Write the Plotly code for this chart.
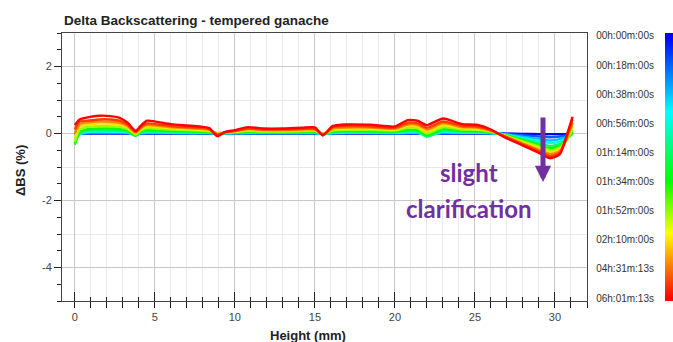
import plotly.graph_objects as go
from plotly.colors import sample_colorscale

# ---------------- data ----------------
HEIGHT_MM = [0, 0.3, 0.8, 1.5, 2.2, 2.8, 3.3, 3.8, 4.1, 4.5,
             5.2, 6, 7, 7.8, 8.4, 8.9, 9.4, 10, 10.8, 11.8,
             13, 14.2, 15, 15.5, 16.1, 17, 18.5, 20, 20.8, 21.4,
             22, 23, 24.2, 25.1, 26, 26.8, 28, 29, 29.7, 30.3,
             30.7, 31.1]

SCAN_000 = [0.0, 0.0, 0.0, 0.0, 0.0, 0.0, 0.0, -0.01, 0.0, 0.0,
            0.0, 0.0, 0.0, 0.0, 0.0, -0.01, 0.0, 0.0, 0.0, 0.0,
            0.0, 0.0, 0.0, 0.0, 0.0, 0.0, 0.0, 0.0, 0.0, 0.0,
            0.0, 0.0, 0.0, 0.0, 0.0, 0.0, -0.01, -0.02, -0.02, -0.02,
            -0.02, 0.0]
SCAN_011 = [-0.05, 0.0, 0.01, 0.01, 0.01, 0.01, 0.01, -0.02, 0.0, 0.01,
            0.01, 0.01, 0.0, 0.0, 0.0, 0.0, 0.0, 0.0, 0.0, 0.0,
            0.0, 0.0, 0.0, 0.0, 0.0, 0.01, 0.01, 0.0, 0.01, 0.01,
            -0.02, 0.01, 0.01, 0.01, 0.0, -0.01, -0.05, -0.09, -0.11, -0.09,
            -0.06, 0.0]
SCAN_022 = [-0.12, -0.02, 0.03, 0.03, 0.03, 0.03, 0.02, -0.04, 0.01, 0.02,
            0.02, 0.02, 0.01, 0.01, 0.01, 0.0, 0.0, 0.01, 0.01, 0.01,
            0.01, 0.01, 0.01, -0.01, 0.01, 0.02, 0.02, 0.01, 0.02, 0.02,
            -0.05, 0.03, 0.02, 0.02, 0.01, -0.02, -0.10, -0.16, -0.21, -0.17,
            -0.10, 0.0]
SCAN_033 = [-0.22, -0.02, 0.05, 0.06, 0.06, 0.05, 0.04, -0.06, 0.02, 0.04,
            0.04, 0.03, 0.03, 0.02, 0.02, -0.01, 0.01, 0.01, 0.02, 0.02,
            0.02, 0.02, 0.02, -0.01, 0.02, 0.03, 0.03, 0.02, 0.04, 0.04,
            -0.08, 0.05, 0.03, 0.03, 0.01, -0.02, -0.14, -0.22, -0.28, -0.24,
            -0.15, 0.0]
SCAN_044 = [-0.30, 0.0, 0.08, 0.10, 0.10, 0.09, 0.06, -0.07, 0.04, 0.07,
            0.06, 0.05, 0.05, 0.04, 0.03, -0.01, 0.01, 0.02, 0.04, 0.03,
            0.03, 0.03, 0.03, -0.02, 0.04, 0.05, 0.05, 0.04, 0.08, 0.07,
            -0.09, 0.09, 0.05, 0.05, 0.02, -0.03, -0.18, -0.29, -0.37, -0.31,
            -0.18, 0.0]
SCAN_056 = [-0.33, 0.05, 0.13, 0.15, 0.15, 0.13, 0.09, -0.06, 0.06, 0.11,
            0.10, 0.08, 0.07, 0.06, 0.04, 0.0, 0.01, 0.03, 0.05, 0.04,
            0.04, 0.05, 0.05, -0.02, 0.06, 0.08, 0.07, 0.06, 0.11, 0.11,
            -0.05, 0.13, 0.08, 0.07, 0.03, -0.04, -0.21, -0.35, -0.44, -0.37,
            -0.20, 0.05]
SCAN_067 = [-0.25, 0.12, 0.20, 0.22, 0.22, 0.20, 0.13, -0.03, 0.09, 0.16,
            0.14, 0.12, 0.10, 0.09, 0.07, 0.02, 0.02, 0.04, 0.08, 0.06,
            0.06, 0.07, 0.08, -0.01, 0.09, 0.11, 0.11, 0.09, 0.17, 0.16,
            0.0, 0.19, 0.12, 0.11, 0.05, -0.05, -0.24, -0.39, -0.50, -0.42,
            -0.22, 0.12]
SCAN_078 = [-0.12, 0.20, 0.27, 0.30, 0.30, 0.27, 0.18, 0.0, 0.12, 0.22,
            0.19, 0.16, 0.14, 0.12, 0.09, 0.01, 0.03, 0.06, 0.11, 0.09,
            0.09, 0.10, 0.10, -0.01, 0.13, 0.15, 0.15, 0.12, 0.23, 0.22,
            0.06, 0.26, 0.16, 0.15, 0.07, -0.06, -0.27, -0.44, -0.56, -0.47,
            -0.22, 0.22]
SCAN_087 = [0.0, 0.28, 0.33, 0.36, 0.35, 0.32, 0.22, 0.03, 0.15, 0.26,
            0.23, 0.19, 0.16, 0.14, 0.11, -0.01, 0.03, 0.07, 0.13, 0.10,
            0.10, 0.12, 0.12, -0.02, 0.15, 0.18, 0.18, 0.14, 0.27, 0.26,
            0.12, 0.31, 0.19, 0.18, 0.08, -0.07, -0.30, -0.49, -0.62, -0.52,
            -0.20, 0.32]
SCAN_094 = [0.12, 0.36, 0.38, 0.42, 0.42, 0.38, 0.26, 0.05, 0.18, 0.30,
            0.27, 0.22, 0.19, 0.17, 0.13, -0.04, 0.04, 0.08, 0.15, 0.12,
            0.12, 0.14, 0.14, -0.04, 0.18, 0.22, 0.21, 0.17, 0.32, 0.30,
            0.17, 0.36, 0.22, 0.21, 0.10, -0.08, -0.33, -0.53, -0.68, -0.57,
            -0.15, 0.42]
SCAN_100 = [0.25, 0.42, 0.48, 0.53, 0.52, 0.47, 0.32, 0.08, 0.22, 0.38,
            0.34, 0.28, 0.24, 0.21, 0.16, -0.08, 0.05, 0.10, 0.19, 0.15,
            0.15, 0.17, 0.18, -0.06, 0.22, 0.27, 0.26, 0.21, 0.40, 0.38,
            0.25, 0.45, 0.28, 0.26, 0.12, -0.10, -0.36, -0.58, -0.74, -0.62,
            -0.10, 0.50]

SCANS = [SCAN_000, SCAN_011, SCAN_022, SCAN_033, SCAN_044, SCAN_056,
         SCAN_067, SCAN_078, SCAN_087, SCAN_094, SCAN_100]
# position of each scan on the time colour bar (0 = first scan, 1 = last)
SCAN_POSITION = [0.0, 0.11, 0.22, 0.33, 0.44, 0.56, 0.67, 0.78, 0.87, 0.94, 1.0]

TIME_LABELS = ["00h:00m:00s", "00h:18m:00s", "00h:38m:00s", "00h:56m:00s",
               "01h:14m:00s", "01h:34m:00s", "01h:52m:00s", "02h:10m:00s",
               "04h:31m:13s", "06h:01m:13s"]
TIME_STEPS = list(range(len(TIME_LABELS)))

Y_TICKS = [-4, -2, 0, 2]
Y_TICK_LABELS = ["-4", "-2", "0", "2"]

# ---------------- style ----------------
COLORSCALE = [[0.0, "#0000ff"], [0.29, "#00ffff"], [0.55, "#00ff00"],
              [0.75, "#ffff00"], [1.0, "#ff0000"]]
FONT = "Liberation Sans, Arial, sans-serif"
PURPLE = "#7030A0"

W, H = 673, 342
ML, MR, MT, MB = 62, 0, 33, 41
PW, PH = W - ML - MR, H - MT - MB
PLOT_RIGHT = 587
BAR_LEFT = 665


def px(xp):
    return (xp - ML) / PW


def py(yp):
    return (H - MB - yp) / PH


fig = go.Figure()

colors = sample_colorscale(COLORSCALE, SCAN_POSITION)
for scan, col in zip(SCANS, colors):
    fig.add_trace(go.Scatter(
        x=HEIGHT_MM, y=scan, mode="lines",
        line=dict(color=col, width=2.4, shape="spline", smoothing=0.6),
        showlegend=False, hoverinfo="skip"))

# overlay axes carrying the extra tick marks
fig.add_trace(go.Scatter(x=[None], y=[None], xaxis="x2", yaxis="y2",
                         showlegend=False, hoverinfo="skip"))

# colour bar drawn as a heatmap
fig.add_trace(go.Heatmap(
    z=[[s, s] for s in TIME_STEPS], x=[0, 1], y=TIME_STEPS,
    colorscale=COLORSCALE, zmin=TIME_STEPS[0], zmax=TIME_STEPS[-1],
    zsmooth="best", showscale=False, hoverinfo="skip",
    xaxis="x3", yaxis="y3"))

XR = [-0.8, 32.0]
YR = [-5, 3]
tickfont = dict(family=FONT, size=11, color="#444")

fig.update_layout(
    width=W, height=H, autosize=False,
    margin=dict(l=ML, r=MR, t=MT, b=MB, pad=0),
    paper_bgcolor="white", plot_bgcolor="white",
    showlegend=False,
    xaxis=dict(domain=[0, px(PLOT_RIGHT)], range=XR, dtick=5, tick0=0,
               showgrid=True, gridcolor="#c8c8c8", gridwidth=1,
               zeroline=False, showline=True, linecolor="#444", linewidth=1,
               mirror=True, ticks="outside", ticklen=6, tickcolor="#222",
               tickfont=tickfont, anchor="y",
               minor=dict(dtick=1, tick0=0, showgrid=True, gridcolor="#e9e9e9",
                          ticks="outside", ticklen=6, tickcolor="#222")),
    yaxis=dict(domain=[0, 1], range=YR, tickvals=Y_TICKS, ticktext=Y_TICK_LABELS,
               showgrid=True, gridcolor="#c8c8c8", gridwidth=1,
               zeroline=False, showline=True, linecolor="#444", linewidth=1,
               mirror=True, ticks="outside", ticklen=7, tickcolor="#222",
               tickfont=tickfont, anchor="x",
               minor=dict(dtick=1, tick0=0, showgrid=True, gridcolor="#e9e9e9",
                          ticks="")),
    xaxis2=dict(overlaying="x", anchor="y", range=XR, dtick=5, tick0=0,
                showgrid=False, zeroline=False, showline=False,
                showticklabels=False, ticks="inside", ticklen=9, tickcolor="#222",
                minor=dict(dtick=1, tick0=0, ticks="inside", ticklen=4,
                           tickcolor="#222", showgrid=False)),
    yaxis2=dict(overlaying="y", anchor="x", range=YR, dtick=0.5, tick0=0,
                showgrid=False, zeroline=False, showline=False,
                showticklabels=False, ticks="outside", ticklen=4, tickcolor="#222"),
    xaxis3=dict(domain=[px(BAR_LEFT), 1], anchor="y3", range=[-0.5, 1.5],
                showgrid=False, zeroline=False, showline=False,
                showticklabels=False, ticks=""),
    yaxis3=dict(domain=[0, 1], anchor="x3", range=[TIME_STEPS[-1] + 0.1, -0.1],
                side="left", tickvals=TIME_STEPS, ticktext=TIME_LABELS,
                showgrid=False, zeroline=False, showline=False,
                ticks="outside", ticklen=8, tickcolor="rgba(0,0,0,0)",
                tickfont=dict(family=FONT, size=10, color="#333")),
)

annotations = [
    dict(text="<b>Delta Backscattering - tempered ganache</b>",
         x=0, y=py(20), xanchor="left", yanchor="middle",
         font=dict(family=FONT, size=13.5, color="#222")),
    dict(text="<b>ΔBS (%)</b>", x=px(20), y=py(171), textangle=-90,
         xanchor="center", yanchor="middle",
         font=dict(family=FONT, size=13, color="#222")),
    dict(text="<b>Height (mm)</b>", x=px(308), y=py(335),
         xanchor="center", yanchor="middle",
         font=dict(family=FONT, size=13, color="#222")),
    dict(text="<b>slight</b>", x=px(469), y=py(172),
         xanchor="center", yanchor="middle",
         font=dict(family="Lato, sans-serif", size=24, color=PURPLE)),
    dict(text="<b>clarification</b>", x=px(469), y=py(208),
         xanchor="center", yanchor="middle",
         font=dict(family="Lato, sans-serif", size=24, color=PURPLE)),
    dict(text="", x=px(543), y=py(182), ax=0, ay=-66,
         showarrow=True, arrowhead=2, arrowsize=0.65, arrowwidth=5,
         arrowcolor=PURPLE),
]
for a in annotations:
    a.setdefault("showarrow", False)
    a["xref"] = "paper"
    a["yref"] = "paper"
fig.update_layout(annotations=annotations)

fig.write_html("out.html",
               config={"displayModeBar": False, "staticPlot": True},
               post_script="document.body.style.margin='0';"
                           "document.body.style.overflow='hidden';")
